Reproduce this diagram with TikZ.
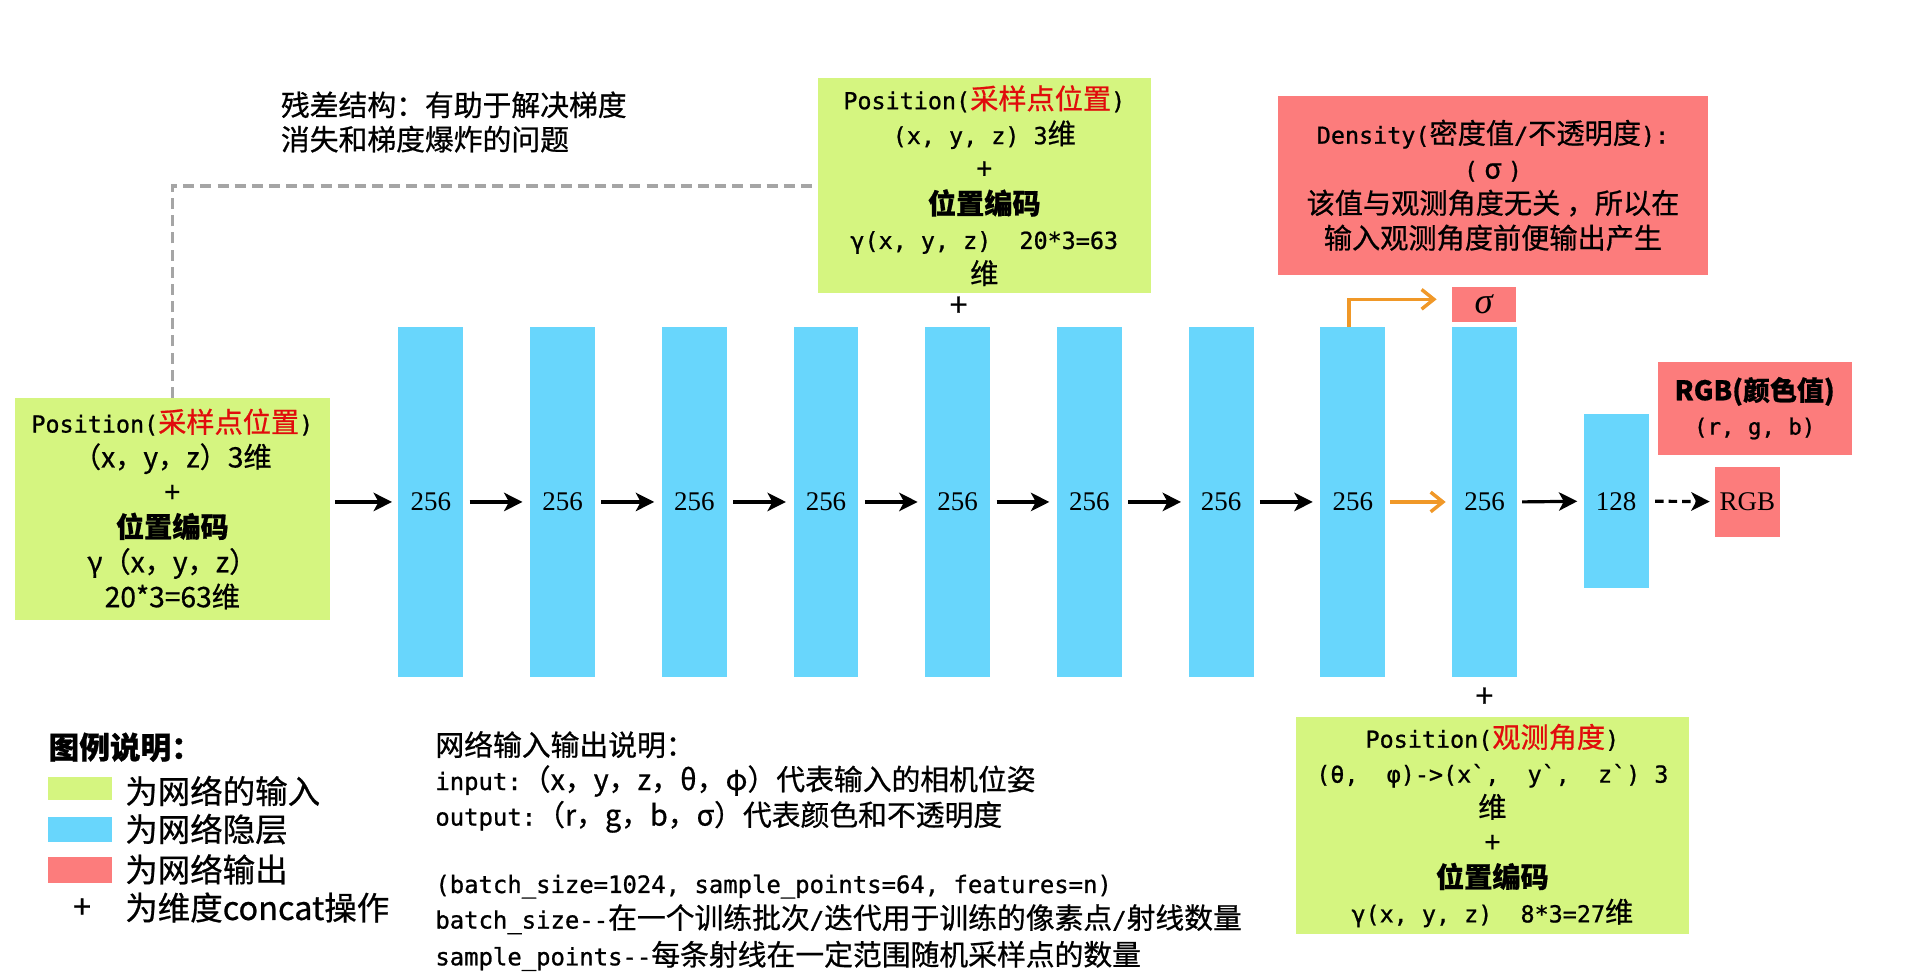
\documentclass[tikz,border=0pt]{standalone}
\usepackage{fontspec}
\setmainfont{Liberation Serif}
\newfontfamily\zh{Noto Sans CJK SC}[FakeBold=0.7]
\newfontfamily\mono{DejaVu Sans Mono}[Scale=0.83,FakeBold=0.9]
\usetikzlibrary{arrows.meta}
\definecolor{ingreen}{RGB}{213,245,128}
\definecolor{hidblue}{RGB}{104,214,252}
\definecolor{outred}{RGB}{252,124,124}
\definecolor{redtxt}{RGB}{225,12,12}
\definecolor{orangec}{RGB}{240,152,40}
\definecolor{dashgray}{RGB}{165,165,165}
\newcommand{\bx}{\zh\fontsize{23}{28.5}\selectfont}
\newcommand{\barf}{\fontsize{22}{22}\selectfont}
\newcommand{\btf}{\zh\fontsize{23.5}{28}\selectfont}
\newcommand{\lgf}{\zh\fontsize{26.5}{28}\selectfont}
\begin{document}
\begin{tikzpicture}[x=1pt,y=-1pt,
  inbox/.style={fill=ingreen,inner sep=0pt,align=center,font=\bx},
  hbar/.style={fill=hidblue,inner sep=0pt,minimum width=53pt,minimum height=285pt,font=\barf},
  outbox/.style={fill=outred,inner sep=0pt,align=center},
  blk/.style={line width=2.6pt,-{Stealth[length=15pt,width=15pt,inset=4pt]}},
  orng/.style={draw=orangec,line width=2.8pt,-{Straight Barb[length=10pt,width=16pt]}},
  dsh/.style={draw=dashgray,line width=3pt,dash pattern=on 9pt off 5pt},
  txt/.style={inner sep=0pt,anchor=base west},
  plus/.style={inner sep=0pt,font=\zh\fontsize{26}{26}\selectfont}
]
\fill[white] (0,0) rectangle (1568,795);
\useasboundingbox (0,0) rectangle (1568,795);

% title note
\node[txt,font=\btf] (t1) at (229,94.5) {残差结构：有助于解决梯度};
\node[txt,font=\btf] (t2) at (229,122.5) {消失和梯度爆炸的问题};

% input boxes
\node[inbox,minimum width=257pt,minimum height=181pt] (lin) at (140.6,415.3)
 {{\mono Position(}{\color{redtxt}采样点位置}{\mono )}\\（x，y，z）3维\\+\\{\bfseries 位置编码}\\γ（x，y，z）\\20*3=63维};
\node[inbox,minimum width=272pt,minimum height=175pt] (tin) at (803,151.5)
 {{\mono Position(}{\color{redtxt}采样点位置}{\mono )}\\{\mono (x, y, z) 3}维\\+\\{\bfseries 位置编码}\\{\mono γ(x, y, z)~~20*3=63}\\维};
\node[inbox,minimum width=321pt,minimum height=177pt] (bin) at (1217.5,673.5)
 {{\mono Position(}{\color{redtxt}观测角度}{\mono )}\\{\mono (θ,~~φ)->(x`,~~y`,~~z`)~3}\\维\\+\\{\bfseries 位置编码}\\{\mono γ(x,~y,~z)~~8*3=27}维};

% output boxes
\node[outbox,minimum width=350pt,minimum height=146pt,font=\bx] (den) at (1218,151.2)
 {{\mono Density(}密度值{\mono /}不透明度{\mono ):}\\{\mono (}~σ~{\mono )}\\该值与观测角度无关 ，所以在\\输入观测角度前便输出产生};
\node[outbox,minimum width=52.6pt,minimum height=28.4pt,font=\fontsize{30}{30}\selectfont\itshape] (sig) at (1210.5,248.2) {σ};
\node[outbox,minimum width=158pt,minimum height=76pt,font=\zh\fontsize{22}{28}\selectfont] (rgbl) at (1431.5,333)
 {{\bfseries RGB(颜色值)}\\{\mono (r, g, b)}};
\node[outbox,minimum width=53pt,minimum height=57pt,font=\barf] (rgb) at (1425.5,409.2) {RGB};

% hidden layers
\foreach \i in {1,...,9} {
  \node[hbar] (b\i) at ({351.5+107.45*(\i-1)},409.5) {256};
}
\node[hbar,minimum height=142.3pt] (b10) at (1318.5,408.9) {128};

% plus signs
\node[plus] (p1) at (782,250) {+};
\node[plus] (p2) at (1211,569) {+};

% connectors
\draw[dsh] (lin.north) |- (tin.west);
\draw[blk,shorten <=4pt,shorten >=5pt] (lin.east |- b1.west) -- (b1.west);
\foreach \i/\j in {1/2,2/3,3/4,4/5,5/6,6/7,7/8} {
  \draw[blk,shorten <=5pt,shorten >=6pt] (b\i.east) -- (b\j.west);
}
\draw[orng,shorten <=4pt,shorten >=5pt] (b8.east) -- (b9.west);
\draw[orng,shorten >=12pt] ([xshift=-3pt]b8.north) |- ([yshift=4pt]sig.west);
\draw[blk,shorten <=4pt,shorten >=5pt] (b9.east) -- (b10.west);
\draw[blk,dash pattern=on 7pt off 4pt,shorten <=5pt,shorten >=4pt] (b10.east) -- (rgb.west);

% legend
\node[txt,font=\zh\bfseries\fontsize{25}{25}\selectfont] (lgt) at (39.5,619) {图例说明：};
\node[fill=ingreen,minimum width=52pt,minimum height=19pt,inner sep=0pt] (lg1) at (65,643.5) {};
\node[fill=hidblue,minimum width=52pt,minimum height=20.5pt,inner sep=0pt] (lg2) at (65,676.8) {};
\node[fill=outred,minimum width=52pt,minimum height=21pt,inner sep=0pt] (lg3) at (65,709.5) {};
\node[plus] (lgp) at (67,741) {+};
\node[txt,font=\lgf] (lt1) at (102,655.5) {为网络的输入};
\node[txt,font=\lgf] (lt2) at (102,686.5) {为网络隐层};
\node[txt,font=\lgf] (lt3) at (102,719.5) {为网络输出};
\node[txt,font=\lgf] (lt4) at (102,750.5) {为维度concat操作};

% io description
\node[txt,font=\btf] (d1) at (355,616.5) {网络输入输出说明：};
\node[txt,font=\btf] (d2) at (355,644.5) {{\mono input:}（x，y，z，θ，φ）代表输入的相机位姿};
\node[txt,font=\btf] (d3) at (355,673.5) {{\mono output:}（r，g，b，σ）代表颜色和不透明度};
\node[txt,font=\btf] (d4) at (355,728.5) {{\mono (batch\_size=1024, sample\_points=64, features=n)}};
\node[txt,font=\btf] (d5) at (355,757.5) {{\mono batch\_size--}在一个训练批次{\mono /}迭代用于训练的像素点{\mono /}射线数量};
\node[txt,font=\btf] (d6) at (355,787.5) {{\mono sample\_points--}每条射线在一定范围随机采样点的数量};
\end{tikzpicture}
\end{document}
